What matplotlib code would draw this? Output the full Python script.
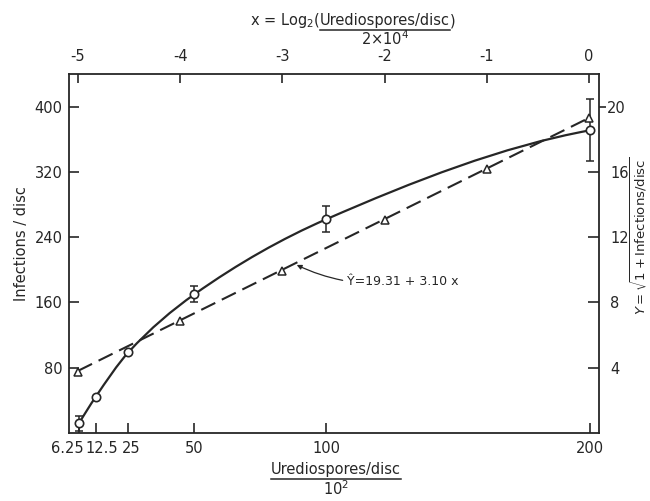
import numpy as np
import matplotlib.pyplot as plt
import matplotlib.transforms as mtransforms
from matplotlib.path import Path
from matplotlib.patches import PathPatch
from matplotlib.lines import Line2D

# bottom / left scale: infections per disc vs urediospores per disc (/10^2)
spores = [6.25, 12.5, 25, 50, 100, 200]
infections = [12, 44, 99, 170, 262, 371]
inf_err = [9, 0, 0, 10, 16, 38]

# top / right scale: x = log2(spores / 2e4), Y = sqrt(1 + infections)
log_x = [-5, -4, -3, -2, -1, 0]
y_sqrt = [3.76, 6.85, 9.95, 13.06, 16.19, 19.33]
intercept, slope = 19.31, 3.10

bottom_labels = ['6.25', '12.5', '25', '50', '100', '200']
top_labels = ['-5', '-4', '-3', '-2', '-1', '0']
left_ticks = [80, 160, 240, 320, 400]
right_ticks = [4, 8, 12, 16]
right_top_tick = [20]

ink = '#262626'
plt.rcParams['font.family'] = 'DejaVu Sans'
plt.rcParams['mathtext.fontset'] = 'dejavusans'

fig = plt.figure(figsize=(6.5, 5.01), dpi=100)
pos = [0.1062, 0.1357, 0.8154, 0.7166]
ax = fig.add_axes(pos)
ax2 = fig.add_axes(pos, frameon=False)

ax.set_xlim(2.46, 203.4)
ax.set_ylim(0, 440)
ax2.set_xlim(-5.088, 0.098)
ax2.set_ylim(0, 22.0)

for s in ax.spines.values():
    s.set_linewidth(1.3)
    s.set_color(ink)


def pchip_slopes(x, y):
    x = np.asarray(x, float)
    y = np.asarray(y, float)
    h = np.diff(x)
    d = np.diff(y) / h
    m = np.zeros_like(y)
    for k in range(1, len(x) - 1):
        w1 = 2 * h[k] + h[k - 1]
        w2 = h[k] + 2 * h[k - 1]
        m[k] = (w1 + w2) / (w1 / d[k - 1] + w2 / d[k])
    m[0] = ((2 * h[0] + h[1]) * d[0] - h[0] * d[1]) / (h[0] + h[1])
    m[-1] = ((2 * h[-1] + h[-2]) * d[-1] - h[-1] * d[-2]) / (h[-1] + h[-2])
    return m


# smooth curve through the circles, drawn as bezier segments
m = pchip_slopes(spores, infections)
verts = [(spores[0], infections[0])]
codes = [Path.MOVETO]
for k in range(len(spores) - 1):
    h = spores[k + 1] - spores[k]
    verts += [(spores[k] + h / 3, infections[k] + m[k] * h / 3),
              (spores[k + 1] - h / 3, infections[k + 1] - m[k + 1] * h / 3),
              (spores[k + 1], infections[k + 1])]
    codes += [Path.CURVE4] * 3
ax.add_patch(PathPatch(Path(verts, codes), fill=False, lw=1.6, ec=ink, zorder=3))

err = np.array(inf_err)
sel = err > 0
ax.errorbar(np.array(spores)[sel], np.array(infections)[sel], yerr=err[sel],
            fmt='none', ecolor=ink, elinewidth=1.1, capsize=2.8, capthick=1.1, zorder=4)
ax.plot(spores, infections, 'o', ms=6, mfc='white', mec=ink, mew=1.2, zorder=5)

# regression line and triangles
xl = np.array([log_x[0], log_x[-1]])
ax2.plot(xl, intercept + slope * xl, color=ink, lw=1.5, dashes=(7.5, 3.5), zorder=3)
ax2.plot(log_x, y_sqrt, '^', ms=6, mfc='white', mec=ink, mew=1.1, zorder=5)

ax2.annotate('Ŷ=19.31 + 3.10 x', xy=(-2.86, 10.3), xytext=(-2.37, 9.26),
             ha='left', va='center', fontsize=9, color=ink,
             arrowprops=dict(arrowstyle='-|>', mutation_scale=7, lw=0.9,
                             color=ink, connectionstyle='arc3,rad=-0.15',
                             shrinkA=1, shrinkB=0))

# ticks
ax.set_xticks(spores)
ax.set_xticklabels(bottom_labels)
ax.set_yticks(left_ticks)
ax.tick_params(axis='x', direction='in', length=7, width=1.2, pad=6,
               labelsize=10.5, colors=ink, top=False)
ax.tick_params(axis='y', direction='in', length=7, width=1.2, pad=4.5,
               labelsize=10.5, colors=ink, right=False)

ax2.set_xticks(log_x)
ax2.set_xticklabels(top_labels)
ax2.set_yticks(right_ticks)
ax2.set_yticks(right_top_tick, minor=True)
ax2.set_yticklabels([str(v) for v in right_top_tick], minor=True)
ax2.tick_params(axis='x', direction='in', length=6.5, width=1.2, pad=7,
                labelsize=10.5, colors=ink, top=True, bottom=False,
                labeltop=True, labelbottom=False)
ax2.tick_params(axis='y', which='major', direction='in', length=8, width=1.2,
                pad=8, labelsize=10.5, colors=ink, right=True, left=False,
                labelright=True, labelleft=False)
ax2.tick_params(axis='y', which='minor', direction='out', length=5, width=1.2,
                pad=1, labelsize=10.5, colors=ink, right=True, left=False,
                labelright=True, labelleft=False)

# crowded labels at the low end are pushed apart, as in the original
label_shift_pt = [-8.5, 4.5, 2, 0, 0, 0]
for lab, dx in zip(ax.get_xticklabels(), label_shift_pt):
    off = mtransforms.ScaledTranslation(dx / 72, 0, fig.dpi_scale_trans)
    lab.set_transform(lab.get_transform() + off)

# axis labels
fig.text(22 / 650, 1 - 244 / 501, 'Infections / disc', rotation=90,
         ha='center', va='center', fontsize=10.5, color=ink)
fig.text(639 / 650, 1 - 236 / 501, r'$Y = \sqrt{1 + \mathrm{Infections/disc}}$',
         rotation=90, ha='center', va='center', fontsize=9.5, color=ink)

renderer = fig.canvas.get_renderer()
inv = fig.transFigure.inverted()


def frac_label(cx, y_num, y_den, num, den, prefix='', suffix=''):
    t = fig.text(cx, y_num, num, ha='center', va='baseline', fontsize=10.5, color=ink)
    bb = t.get_window_extent(renderer).transformed(inv)
    if prefix:
        fig.text(bb.x0, y_num, prefix, ha='right', va='baseline', fontsize=10.5, color=ink)
    if suffix:
        fig.text(bb.x1, y_num, suffix, ha='left', va='baseline', fontsize=10.5, color=ink)
    fig.add_artist(Line2D([bb.x0, bb.x1], [bb.y0 - 0.003] * 2,
                          transform=fig.transFigure, color=ink, lw=1.1))
    fig.text(cx, y_den, den, ha='center', va='baseline', fontsize=10.5, color=ink)


frac_label(385 / 650, 1 - 25 / 501, 1 - 45 / 501, 'Urediospores/disc',
           r'2$\times$10$^4$', prefix=r'x = Log$_2$(', suffix=')')
frac_label(336 / 650, 1 - 474 / 501, 1 - 495 / 501, 'Urediospores/disc',
           r'10$^2$')

fig.savefig('out.png', dpi=100, facecolor='white')
